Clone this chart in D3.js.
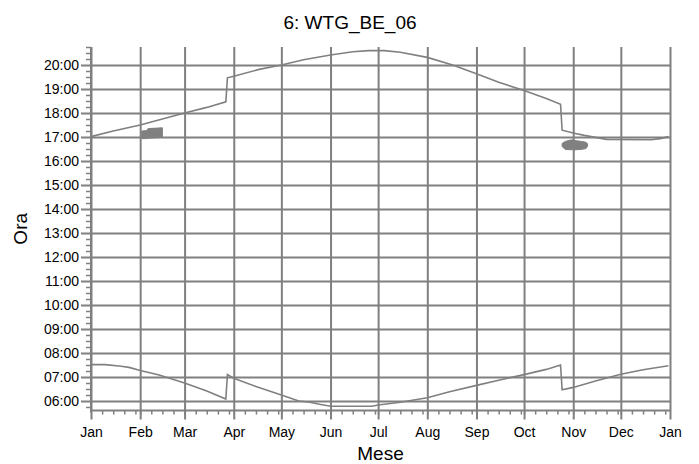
<!DOCTYPE html>
<html>
<head>
<meta charset="utf-8">
<script src="https://cdn.jsdelivr.net/npm/d3@7"></script>
<style>
  html, body { margin: 0; padding: 0; background: #fff; }
  svg { display: block; font-family: "Liberation Sans", Arial, sans-serif; }
</style>
</head>
<body>
<svg id="chart" width="699" height="464"></svg>
<script>
// ---- data ----
const title = "6: WTG_BE_06";
const xLabel = "Mese";
const yLabel = "Ora";
const monthLabels = ["Jan","Feb","Mar","Apr","May","Jun","Jul","Aug","Sep","Oct","Nov","Dec","Jan"];
const hourLabels = ["06:00","07:00","08:00","09:00","10:00","11:00","12:00","13:00","14:00","15:00","16:00","17:00","18:00","19:00","20:00"];

// upper curve (evening limit)
const upperDates = ["01-01","01-15","02-01","02-15","03-01","03-15","03-27","03-28","04-01","04-17","05-01","05-15","06-01","06-15","06-25","07-05","07-15","08-01","08-17","09-01","09-15","10-01","10-15","10-24","10-25","11-01","11-08","11-15","11-22","12-20","12-26","12-31"];
const upperTimes = ["17:01","17:15","17:30","17:45","18:00","18:14","18:28","19:28","19:32","19:49","20:00","20:13","20:25","20:33","20:36","20:36","20:32","20:19","20:00","19:38","19:17","18:56","18:36","18:22","17:17","17:10","17:04","16:59","16:54","16:53","16:56","17:01"];

// lower curve (morning limit)
const lowerDates = ["01-01","01-10","01-20","01-25","02-01","02-13","03-01","03-15","03-27","03-28","04-01","04-15","05-01","05-12","05-19","05-25","06-01","06-27","07-01","07-15","08-01","08-15","09-01","09-15","10-01","10-15","10-24","10-25","11-01","11-15","12-01","12-15","12-31"];
const lowerTimes = ["07:31","07:31","07:27","07:24","07:16","07:05","06:45","06:25","06:05","07:06","06:57","06:36","06:15","06:00","05:57","05:52","05:47","05:47","05:50","05:57","06:08","06:23","06:39","06:52","07:06","07:19","07:30","06:28","06:34","06:50","07:07","07:18","07:28"];

// shadow periods
const febDates = ["02-02","02-05","02-06","02-15"];
const febStart = ["16:56","16:56","16:57","16:59"];
const febEnd   = ["17:15","17:16","17:21","17:23"];

const novDates = ["10-25","10-27","10-31","11-02","11-06","11-09","11-10"];
const novStart = ["16:36","16:29","16:28","16:28","16:29","16:31","16:37"];
const novEnd   = ["16:44","16:49","16:53","16:51","16:49","16:47","16:43"];

// ---- helpers ----
const YEAR = 2021;
const parseDay = s => { const [m, d] = s.split("-").map(Number); return new Date(YEAR, m - 1, d); };
const parseTime = s => { const [h, m] = s.split(":").map(Number); return h + m / 60; };
const zipLine = (ds, ts) => ds.map((d, i) => ({ date: parseDay(d), t: parseTime(ts[i]) }));
const zipBand = (ds, s, e) => ds.map((d, i) => ({ date: parseDay(d), t0: parseTime(s[i]), t1: parseTime(e[i]) }));

const upper = zipLine(upperDates, upperTimes);
const lower = zipLine(lowerDates, lowerTimes);
const feb = zipBand(febDates, febStart, febEnd);
const nov = zipBand(novDates, novStart, novEnd);

// ---- layout ----
const L = 91, R = 670, T = 47, B = 410.6;
const grey = "#808080";

const svg = d3.select("#chart");
svg.append("rect").attr("width", 699).attr("height", 464).attr("fill", "#fff");

const x = d3.scaleTime().domain([new Date(YEAR, 0, 1), new Date(YEAR + 1, 0, 1)]).range([L, R]);
const y = d3.scaleLinear().domain([5.6, 20.75]).range([B, T]);

const monthTicks = d3.timeMonth.range(new Date(YEAR, 0, 1), new Date(YEAR + 1, 0, 2));
const hourTicks = hourLabels.map(parseTime);

// horizontal gridlines + major y ticks
const yGrid = d3.axisLeft(y).tickValues(hourTicks).tickSize(-(R + 1 - L)).tickFormat("");
svg.append("g").attr("transform", `translate(${L},0)`).call(yGrid)
  .call(g => g.select(".domain").remove())
  .call(g => g.selectAll("line").attr("stroke", grey).attr("stroke-width", 2).attr("x1", -10));

// vertical gridlines
const xGrid = d3.axisBottom(x).tickValues(monthTicks).tickSize(-(B - T)).tickFormat("");
svg.append("g").attr("transform", `translate(0,${B})`).call(xGrid)
  .call(g => g.select(".domain").remove())
  .call(g => g.selectAll("line").attr("stroke", grey).attr("stroke-width", 2).attr("y1", 9));

// minor y ticks (every 15 minutes)
const minorY = d3.range(5.75, 20.76, 0.25).filter(v => Math.abs(v - Math.round(v)) > 1e-6);
svg.append("g").attr("transform", `translate(${L},0)`)
  .call(d3.axisLeft(y).tickValues(minorY).tickSize(5).tickFormat(""))
  .call(g => g.select(".domain").remove())
  .call(g => g.selectAll("line").attr("stroke", grey).attr("stroke-width", 1.5));

// minor x ticks (weekly within months)
const weekTicks = d3.timeDay.every(7).range(new Date(YEAR, 0, 2), new Date(YEAR, 11, 31));
svg.append("g").attr("transform", `translate(0,${B})`)
  .call(d3.axisBottom(x).tickValues(weekTicks).tickSize(4).tickFormat(""))
  .call(g => g.select(".domain").remove())
  .call(g => g.selectAll("line").attr("stroke", grey).attr("stroke-width", 1.5));

// axis lines
svg.append("line").attr("x1", L).attr("x2", L).attr("y1", T).attr("y2", B + 2)
  .attr("stroke", grey).attr("stroke-width", 2);
svg.append("line").attr("x1", L).attr("x2", R + 1).attr("y1", B).attr("y2", B)
  .attr("stroke", grey).attr("stroke-width", 2);

// tick labels
const yAx = svg.append("g").attr("transform", `translate(${L - 12},0)`)
  .call(d3.axisLeft(y).tickValues(hourTicks).tickSize(0).tickPadding(0).tickFormat((d, i) => hourLabels[i]));
yAx.select(".domain").remove();
yAx.selectAll("text").attr("font-size", 14).attr("fill", "#000").attr("font-family", "Liberation Sans, Arial, sans-serif");

const xAx = svg.append("g").attr("transform", `translate(0,${B + 14})`)
  .call(d3.axisBottom(x).tickValues(monthTicks).tickSize(0).tickPadding(0).tickFormat((d, i) => monthLabels[i]));
xAx.select(".domain").remove();
xAx.selectAll("text").attr("font-size", 14).attr("fill", "#000").attr("font-family", "Liberation Sans, Arial, sans-serif").attr("dy", "0.85em");

// data lines
const line = d3.line().x(d => x(d.date)).y(d => y(d.t));
[upper, lower].forEach(data => {
  svg.append("path").datum(data).attr("d", line)
    .attr("fill", "none").attr("stroke", grey).attr("stroke-width", 1.6);
});

// shadow blobs
const area = d3.area().x(d => x(d.date)).y0(d => y(d.t0)).y1(d => y(d.t1));
[feb, nov].forEach(data => {
  svg.append("path").datum(data).attr("d", area)
    .attr("fill", grey).attr("stroke", grey).attr("stroke-width", 1);
});

// titles
svg.append("text").attr("x", 350).attr("y", 29).attr("text-anchor", "middle")
  .attr("font-size", 19).attr("fill", "#000").text(title);
svg.append("text").attr("x", (L + R) / 2).attr("y", 460).attr("text-anchor", "middle")
  .attr("font-size", 19).attr("fill", "#000").text(xLabel);
svg.append("text").attr("transform", `translate(27,${(T + B) / 2}) rotate(-90)`).attr("text-anchor", "middle")
  .attr("font-size", 19).attr("fill", "#000").text(yLabel);
</script>
</body>
</html>
